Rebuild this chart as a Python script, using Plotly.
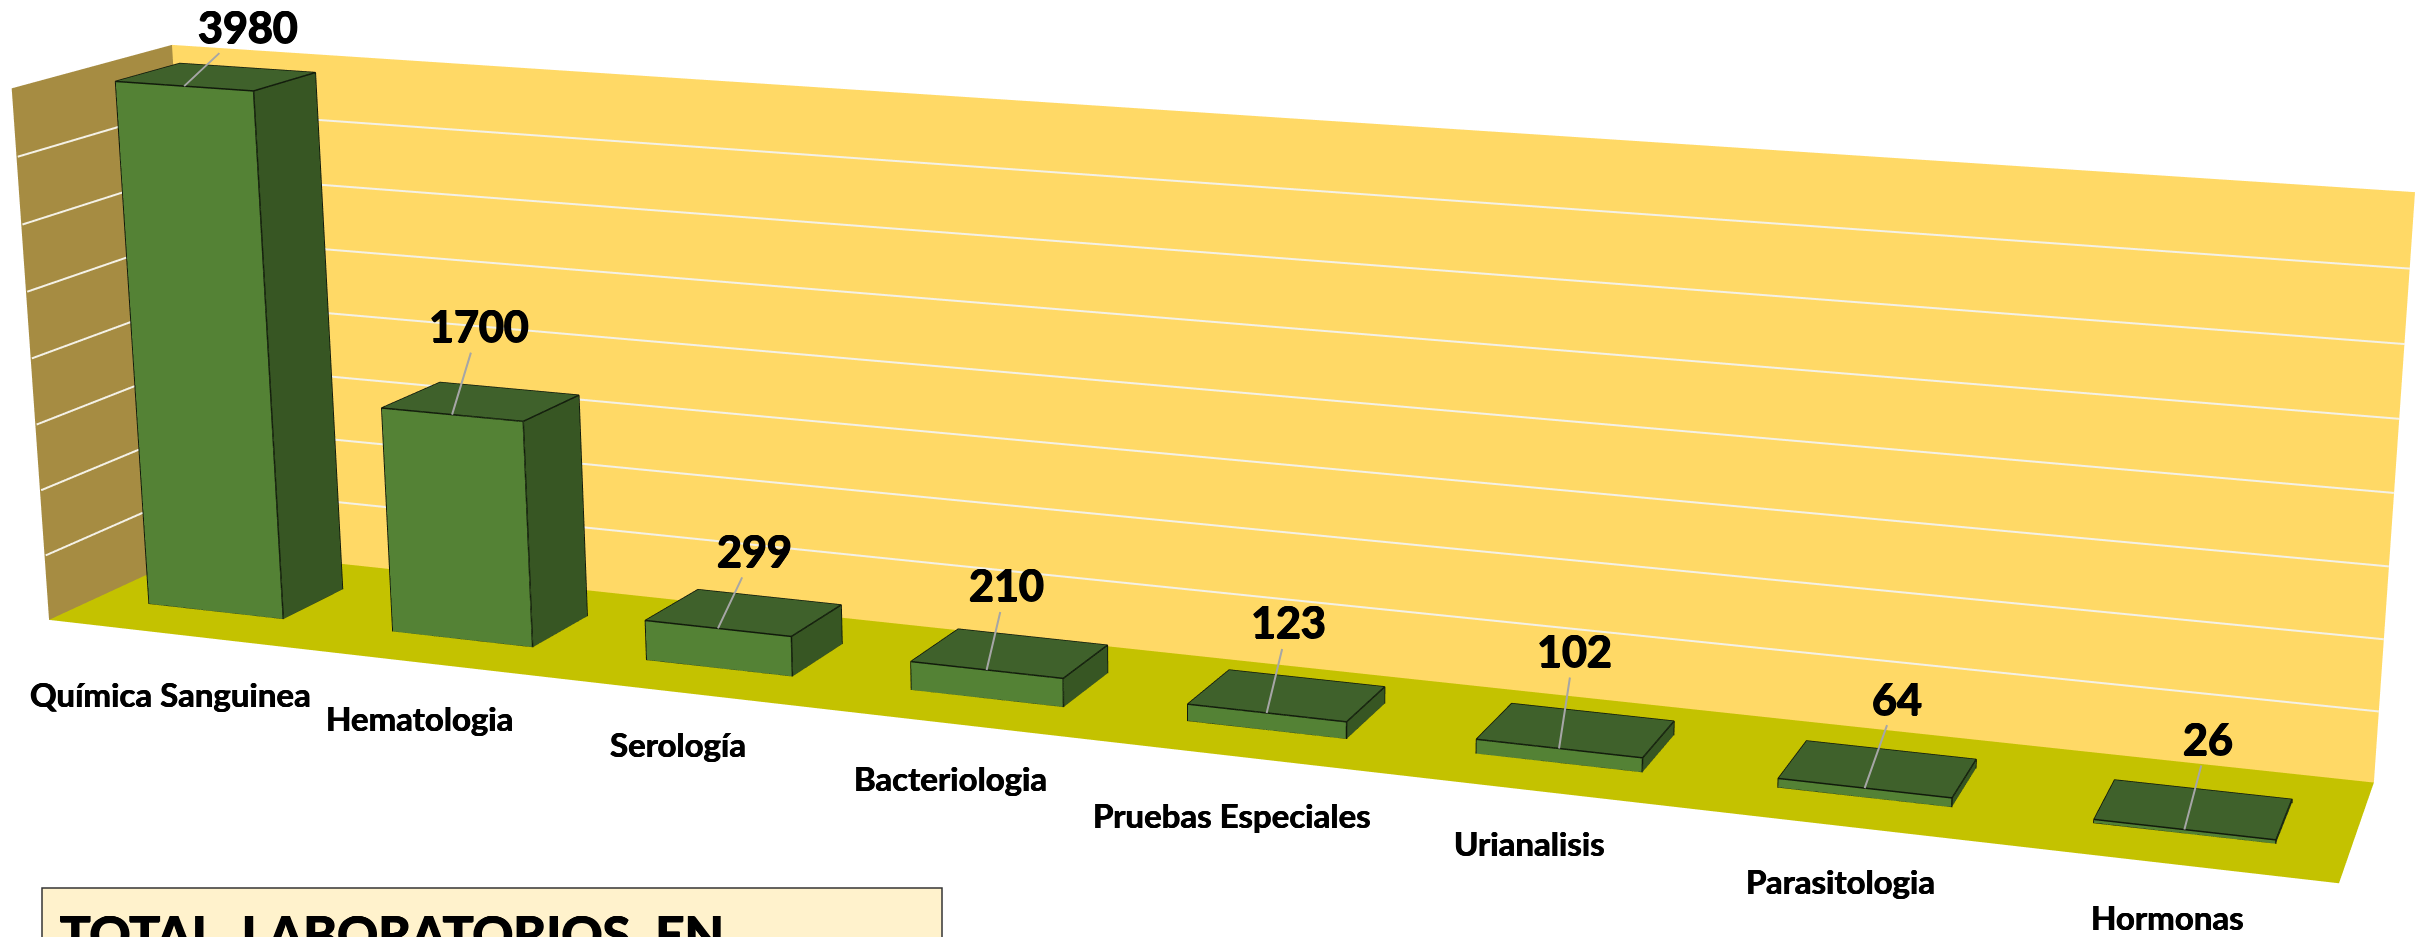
import plotly.graph_objects as go

W, H = 2415, 937

# ---- data ----
categories = ["Química Sanguinea", "Hematologia", "Serología", "Bacteriologia",
              "Pruebas Especiales", "Urianalisis", "Parasitologia", "Hormonas"]
values = [3980, 1700, 299, 210, 123, 102, 64, 26]
z_ticks = [500, 1000, 1500, 2000, 2500, 3000, 3500]
Z_MAX = 4000
box_title = "TOTAL  LABORATORIOS  EN"

# ---- label placement (pixels) ----
value_ax = [64, 27, 37, 20, 22, 15, 32, 24]
value_ay = [-60, -89, -78, -85, -91, -98, -90, -91]
cat_dx = [0, -1, -3, -2, -4, -4, -4, -3]
cat_dy = [60, 55, 51, 54, 59, 52, 55, 53]

# ---- scene geometry ----
HALF_W = 0.5 / 1.8            # gap width 80 %
D0, D1 = 0.2959, 0.7029       # bar depth within the floor
SXY, SXZ, SYZ = 0.3147, -0.1712, 3.3185   # oblique view of the box
AX, AY, AZ = 6.0, 0.2943, 1.0941
EYE = (0.4842, -1.6382, 2.0514)
CENTER = (0.2533, 0.2072, 0.1363)
UP = (0.0097, -0.0942, 1.0)

FLAT = dict(ambient=1, diffuse=0, specular=0, fresnel=0, roughness=1)
COL_BACK, COL_SIDE, COL_FLOOR = "#FFD966", "#A68C42", "#C4C200"
COL_FRONT, COL_RIGHT, COL_TOP = "#548235", "#375623", "#3F612B"
COL_EDGE, COL_GRID, COL_LEAD = "#111A0B", "#F4F1E6", "#A6A6A6"
FONT = "Lato"
HEAVY = "0.8px 0 0 #000, -0.8px 0 0 #000, 0 0.5px 0 #000, 0 -0.5px 0 #000"
MEDIUM = "0.4px 0 0 #000, -0.4px 0 0 #000"


def pt(x, y, z):
    """category position, depth 0-1, value -> scene coordinates"""
    return (x + SXY * y + SXZ * z / Z_MAX, y + SYZ * z / Z_MAX, z)


fig = go.Figure()


def quad(corners, color):
    c = [pt(*p) for p in corners]
    fig.add_trace(go.Mesh3d(x=[p[0] for p in c], y=[p[1] for p in c], z=[p[2] for p in c],
                            i=[0, 0], j=[1, 2], k=[2, 3], color=color, flatshading=True,
                            lighting=FLAT, hoverinfo="skip", showscale=False))


def line(corners, color, width):
    c = [pt(*p) for p in corners]
    fig.add_trace(go.Scatter3d(x=[p[0] for p in c], y=[p[1] for p in c], z=[p[2] for p in c],
                               mode="lines", line=dict(color=color, width=width),
                               hoverinfo="skip", showlegend=False))


quad([(0, 1, 0), (8, 1, 0), (8, 1, Z_MAX), (0, 1, Z_MAX)], COL_BACK)
quad([(0, 0, 0), (0, 1, 0), (0, 1, Z_MAX), (0, 0, Z_MAX)], COL_SIDE)
quad([(0, 0, 0), (8, 0, 0), (8, 1, 0), (0, 1, 0)], COL_FLOOR)
for g in z_ticks:
    line([(0.005, 0, g), (0.005, 0.995, g), (8, 0.995, g)], COL_GRID, 4)

anns = []
for i, (name, v) in enumerate(zip(categories, values)):
    a, b, m = i + 0.5 - HALF_W, i + 0.5 + HALF_W, i + 0.5
    quad([(a, D0, 0), (b, D0, 0), (b, D0, v), (a, D0, v)], COL_FRONT)
    quad([(b, D0, 0), (b, D1, 0), (b, D1, v), (b, D0, v)], COL_RIGHT)
    quad([(a, D0, v), (b, D0, v), (b, D1, v), (a, D1, v)], COL_TOP)
    line([(a, D0, 0), (b, D0, 0), (b, D1, 0), (b, D1, v), (a, D1, v), (a, D0, v), (a, D0, 0)], COL_EDGE, 3)
    line([(a, D0, v), (b, D0, v), (b, D1, v)], COL_EDGE, 3)
    line([(b, D0, 0), (b, D0, v)], COL_EDGE, 3)
    px, py, pz = pt(m, D0, v)
    anns.append(dict(x=px, y=py, z=pz, text="<b>%d</b>" % v, showarrow=True, arrowhead=0,
                     arrowwidth=2, arrowcolor=COL_LEAD, ax=value_ax[i], ay=value_ay[i],
                     xanchor="center", yanchor="middle",
                     font=dict(family=FONT, size=43, color="#000", shadow=HEAVY)))
    anns.append(dict(x=m, y=0, z=0, text="<b>%s</b>" % name, showarrow=False,
                     xanchor="center", yanchor="middle", xshift=cat_dx[i], yshift=-cat_dy[i],
                     font=dict(family=FONT, size=33, color="#000", shadow=MEDIUM)))

hidden = dict(visible=False, showgrid=False, zeroline=False, showbackground=False, showspikes=False)
X_RANGE, Y_RANGE, Z_RANGE = [-1, 9], [-4, 5], [-800, 4800]

fig.update_layout(
    width=W, height=H, margin=dict(l=0, r=0, t=0, b=0), paper_bgcolor="#fff", showlegend=False,
    scene=dict(
        domain=dict(x=[0, 1], y=[0, 1]),
        xaxis=dict(range=X_RANGE, **hidden),
        yaxis=dict(range=Y_RANGE, **hidden),
        zaxis=dict(range=Z_RANGE, **hidden),
        aspectmode="manual",
        aspectratio=dict(x=AX * (X_RANGE[1] - X_RANGE[0]) / 8,
                         y=AY * (Y_RANGE[1] - Y_RANGE[0]),
                         z=AZ * (Z_RANGE[1] - Z_RANGE[0]) / Z_MAX),
        dragmode="orbit",
        annotations=anns,
        camera=dict(eye=dict(x=EYE[0], y=EYE[1], z=EYE[2]),
                    center=dict(x=CENTER[0], y=CENTER[1], z=CENTER[2]),
                    up=dict(x=UP[0], y=UP[1], z=UP[2]),
                    projection=dict(type="perspective")),
    ),
    shapes=[dict(type="rect", xref="paper", yref="paper", x0=42 / W, x1=942 / W, y0=-0.2,
                 y1=(H - 888) / H, fillcolor="#FFF2CC", line=dict(color="#333333", width=1.5))],
    annotations=[dict(xref="paper", yref="paper", x=58 / W, y=(H - 901) / H, xanchor="left",
                      yanchor="top", showarrow=False, text="<b>%s</b>" % box_title,
                      font=dict(family=FONT, size=51, color="#000", shadow=HEAVY))],
)
fig.write_html("out.html", config=dict(displayModeBar=False),
               post_script="document.body.style.margin='0';document.body.style.overflow='hidden';")
